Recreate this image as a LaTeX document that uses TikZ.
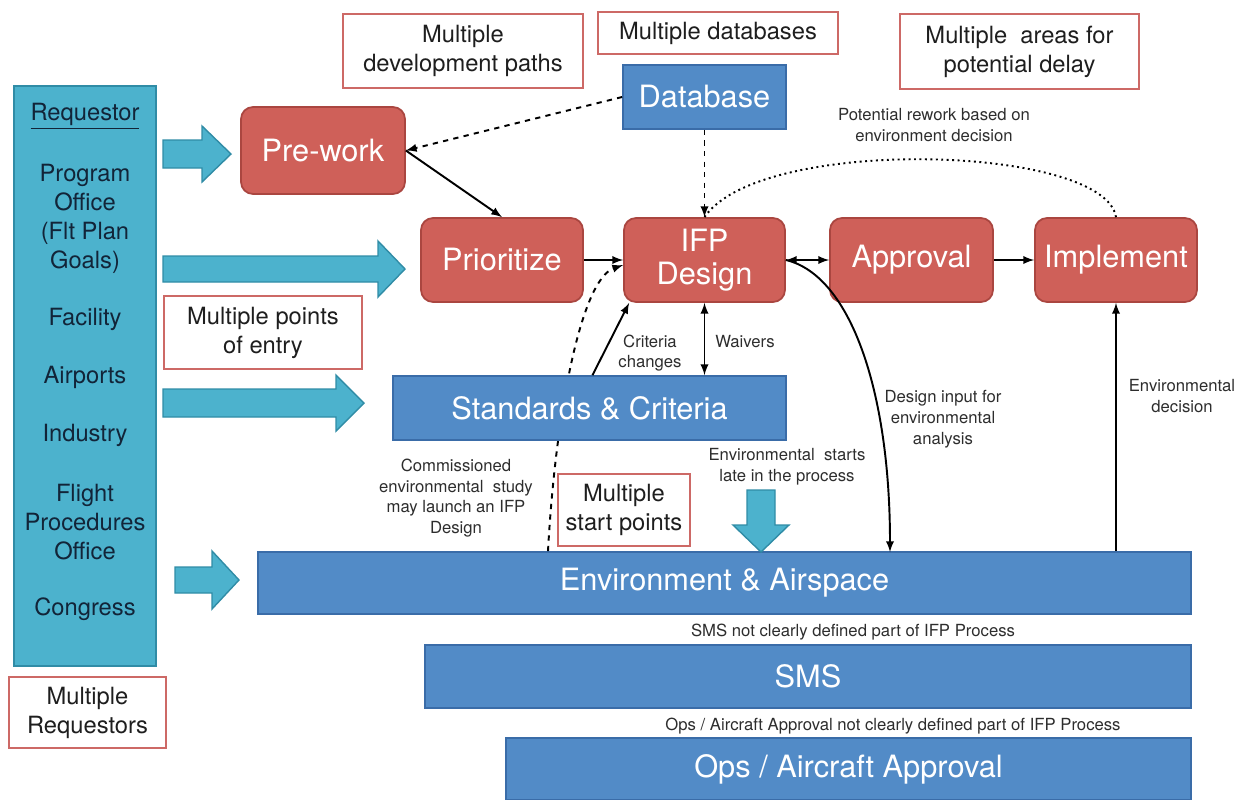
\documentclass[tikz,border=0pt]{standalone}
\usepackage{fontspec}
\setmainfont{TeX Gyre Heros}
\usetikzlibrary{arrows,calc,positioning}
\definecolor{redfill}{RGB}{207,96,89}
\definecolor{redline}{RGB}{170,70,64}
\definecolor{bluefill}{RGB}{82,139,199}
\definecolor{blueline}{RGB}{58,108,168}
\definecolor{cyanfill}{RGB}{76,178,205}
\definecolor{cyanline}{RGB}{48,140,166}
\definecolor{noteline}{RGB}{205,105,102}
\definecolor{notetext}{RGB}{30,30,30}
\definecolor{remarktext}{RGB}{45,45,45}
\definecolor{navytext}{RGB}{18,36,56}
\newcommand{\bigtxt}{\fontsize{17.5}{18.5}\selectfont}
\newcommand{\midtxt}{\fontsize{13.5}{16.5}\selectfont}
\newcommand{\smalltxt}{\fontsize{9.5}{11.8}\selectfont}
% x start, head start, tip, y centre, shaft half, head half
\newcommand{\fatarrow}[6]{%
	\filldraw[fatarrow] (#1,#4-#5) -- (#2,#4-#5) -- (#2,#4-#6) -- (#3,#4) -- (#2,#4+#6) -- (#2,#4+#5) -- (#1,#4+#5) -- cycle;}
\tikzset{%
	task/.style     = {draw=redline, fill=redfill, rounded corners=0.24cm, line width=1pt, inner sep=0pt, text=white, font=\bigtxt, align=center},
	bar/.style      = {draw=blueline, fill=bluefill, line width=1pt, inner sep=0pt, text=white, font=\bigtxt, align=center},
	issue/.style    = {draw=noteline, fill=white, line width=1.3pt, inner sep=0pt, text=notetext, font=\midtxt, align=center},
	reqbox/.style   = {draw=cyanline, fill=cyanfill, line width=1.2pt, inner sep=0pt},
	member/.style   = {text=navytext, font=\midtxt, align=center},
	remark/.style   = {text=remarktext, font=\smalltxt, align=center},
	fatarrow/.style = {fill=cyanfill, draw=cyanline, line width=0.8pt},
	arrow/.style    = {line width=1.1pt,-latex},
	darrow/.style   = {line width=1.1pt,latex-latex},
	dasharrow/.style= {line width=1.1pt,dashed,-latex},
}
\begin{document}
\begin{tikzpicture}[x=0.02cm,y=-0.02cm]
	\useasboundingbox (0,0) rectangle (1245,799);
	% requestors
	\node[reqbox, minimum width=2.84cm, minimum height=11.6cm] (req) at (85,376) {};
	\node[member] (r0) at (85,116) {\underline{Requestor}};
	\node[member] (r1) at (85,219) {Program\\Office\\(Flt Plan\\Goals)};
	\node[member] (r2) at (85,319) {Facility};
	\node[member] (r3) at (85,377) {Airports};
	\node[member] (r4) at (85,435) {Industry};
	\node[member] (r5) at (85,522) {Flight\\Procedures\\Office};
	\node[member] (r6) at (85,609) {Congress};
	\node[issue, minimum width=3.14cm, minimum height=1.42cm] (reqs) at (87.5,712.5) {Multiple\\Requestors};
	% entry arrows
	\fatarrow{163}{202}{231}{154}{14}{28}
	\fatarrow{163}{378}{405}{269}{13}{28}
	\fatarrow{163}{336}{364}{403}{14}{28}
	\fatarrow{175}{212}{239}{580}{13}{29}
	% process steps
	\node[task, minimum width=3.28cm, minimum height=1.74cm] (pre) at (323,150.5) {Pre-work};
	\node[task, minimum width=3.24cm, minimum height=1.68cm] (prio) at (502,260) {Prioritize};
	\node[task, minimum width=3.22cm, minimum height=1.68cm] (ifp) at (704.5,260) {IFP\\Design};
	\node[task, minimum width=3.26cm, minimum height=1.68cm] (appr) at (911.5,260) {Approval};
	\node[task, minimum width=3.24cm, minimum height=1.68cm] (impl) at (1116,260) {Implement};
	\node[bar, minimum width=3.26cm, minimum height=1.28cm] (db) at (704.5,97) {Database};
	\node[bar, minimum width=18.66cm, minimum height=1.24cm] (env) at (724.5,583) {Environment \& Airspace};
	\node[bar, minimum width=15.32cm, minimum height=1.26cm] (sms) at (808,676.5) {SMS};
	\node[bar, minimum width=13.7cm, minimum height=1.24cm] (ops) at (848.5,769) {Ops / Aircraft Approval};
	% commissioned study, runs behind the standards bar
	\draw[dasharrow] ($(env.north -| 548,0)$) .. controls (555,420) and (580,280) .. ($(ifp.west)+(0,5)$);
	\node[bar, minimum width=7.86cm, minimum height=1.28cm] (std) at (589.5,408) {Standards \& Criteria};
	% issues
	\node[issue, minimum width=4.8cm, minimum height=1.48cm] (paths) at (463,51) {Multiple\\development paths};
	\node[issue, minimum width=4.8cm, minimum height=0.84cm] (dbs) at (718,33) {Multiple databases};
	\node[issue, minimum width=4.78cm, minimum height=1.5cm] (delay) at (1019.5,51.5) {Multiple~ areas for\\potential delay};
	\node[issue, minimum width=3.96cm, minimum height=1.46cm] (entry) at (263,332.5) {Multiple points\\of entry};
	\node[issue, minimum width=2.64cm, minimum height=1.44cm] (start) at (624,510) {Multiple\\start points};
	% late start arrow
	\filldraw[fatarrow] (747,490) -- (775,490) -- (775,525) -- (789,525) -- (761,552) -- (733,525) -- (747,525) -- cycle;
	% connectors
	\draw[dasharrow] (db.west) -- (pre.east);
	\draw[dasharrow] (db.south) -- (ifp.north);
	\draw[line width=1.1pt,dotted] (impl.north) .. controls (1105,145) and (760,135) .. (ifp.north);
	\draw[arrow] (pre.east) -- (prio.north);
	\draw[arrow] (prio.east) -- (ifp.west);
	\draw[darrow] (ifp.east) -- (appr.west);
	\draw[arrow] (appr.east) -- (impl.west);
	\coordinate (envdesign) at (890,552);
	\draw[arrow] (ifp.east) .. controls (850,275) and (890,390) .. (envdesign);
	\draw[arrow] ($(std.north)+(3,0)$) -- ($(ifp.south west)+(6,0)$);
	\draw[darrow] (ifp.south) -- (ifp.south |- std.north);
	\draw[arrow] (env.north -| impl.south) -- (impl.south);
	% remarks
	\node[remark] (rework) at (934,125) {Potential rework based on\\environment decision};
	\node[remark] (critlbl) at (650,353) {Criteria\\changes};
	\node[remark] (waivlbl) at (745,342) {Waivers};
	\node[remark] (designlbl) at (943,419) {Design input for\\environmental\\analysis};
	\node[remark] (decilbl) at (1182,396) {Environmental\\decision};
	\node[remark] (studylbl) at (456,498) {Commissioned\\environmental~ study\\may launch an IFP\\Design};
	\node[remark] (latelbl) at (787,467) {Environmental~ starts\\late in the process};
	\node[remark] (smslbl) at (853,632) {SMS not clearly defined part of IFP Process};
	\node[remark] (opslbl) at (893,726) {Ops / Aircraft Approval not clearly defined part of IFP Process};
\end{tikzpicture}
\end{document}
